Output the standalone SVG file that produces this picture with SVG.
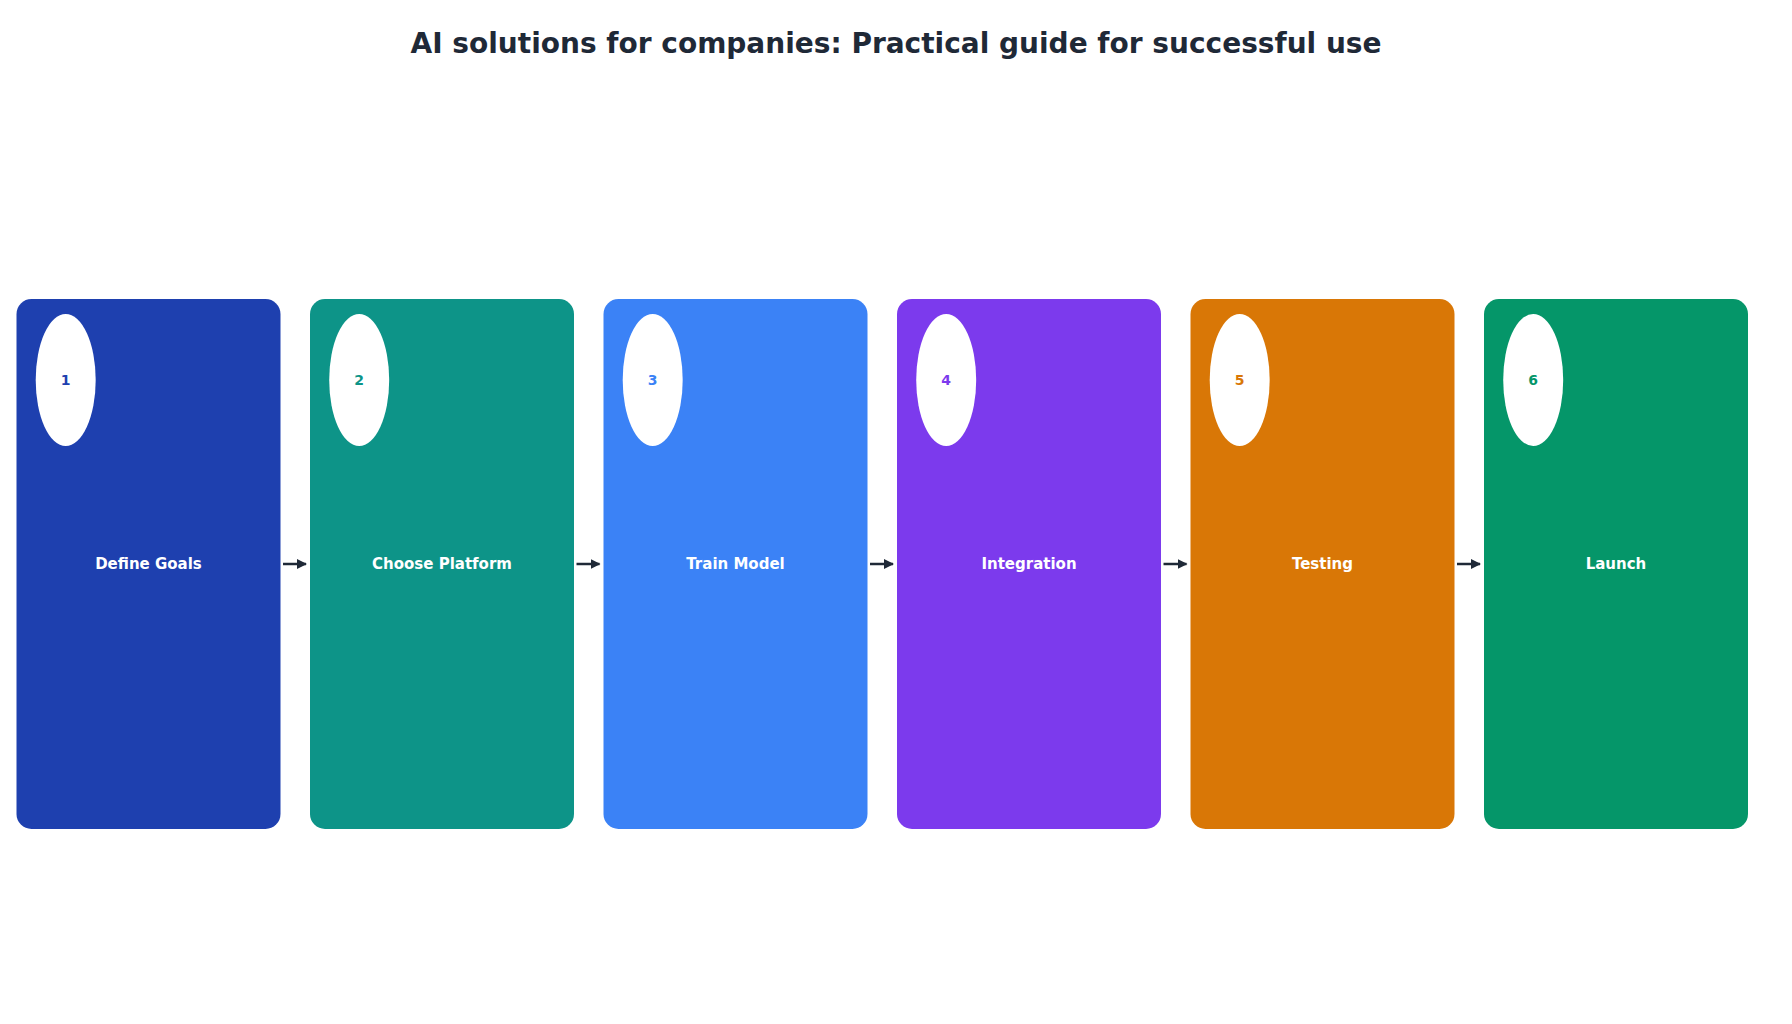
<svg xmlns="http://www.w3.org/2000/svg" width="1792" height="1024" viewBox="0 0 1792 1024">
<defs>
<style>
.title{font-family:"DejaVu Sans",sans-serif;font-weight:bold;font-size:28px;fill:#1f2937;text-anchor:middle}
.lbl{font-family:"DejaVu Sans",sans-serif;font-weight:bold;font-size:15px;fill:#ffffff;text-anchor:middle;dominant-baseline:central}
.num{font-family:"DejaVu Sans",sans-serif;font-weight:bold;font-size:14px;text-anchor:middle;dominant-baseline:central}
.badge{fill:#ffffff}
.conn{stroke:#1f2937;stroke-width:2.5;fill:none}
</style>
<marker id="ah" viewBox="0 0 10 10" refX="9" refY="5" markerWidth="4" markerHeight="4" orient="auto" markerUnits="strokeWidth">
<path d="M0,0 L10,5 L0,10 z" fill="#1f2937"/>
</marker>
</defs>
<rect width="1792" height="1024" fill="#ffffff"/>
<text class="title" x="896" y="53">AI solutions for companies: Practical guide for successful use</text>
<g id="node1">
<rect x="16.5" y="299" width="264" height="530" rx="15" fill="#1e40af"/>
<ellipse class="badge" cx="65.7" cy="380" rx="30" ry="66"/>
<text class="num" x="65.7" y="380" fill="#1e40af">1</text>
<text class="lbl" x="148.5" y="564">Define Goals</text>
</g>
<g id="node2">
<rect x="310" y="299" width="264" height="530" rx="15" fill="#0d9488"/>
<ellipse class="badge" cx="359.2" cy="380" rx="30" ry="66"/>
<text class="num" x="359.2" y="380" fill="#0d9488">2</text>
<text class="lbl" x="442" y="564">Choose Platform</text>
</g>
<g id="node3">
<rect x="603.5" y="299" width="264" height="530" rx="15" fill="#3b82f6"/>
<ellipse class="badge" cx="652.7" cy="380" rx="30" ry="66"/>
<text class="num" x="652.7" y="380" fill="#3b82f6">3</text>
<text class="lbl" x="735.5" y="564">Train Model</text>
</g>
<g id="node4">
<rect x="897" y="299" width="264" height="530" rx="15" fill="#7c3aed"/>
<ellipse class="badge" cx="946.2" cy="380" rx="30" ry="66"/>
<text class="num" x="946.2" y="380" fill="#7c3aed">4</text>
<text class="lbl" x="1029" y="564">Integration</text>
</g>
<g id="node5">
<rect x="1190.5" y="299" width="264" height="530" rx="15" fill="#d97706"/>
<ellipse class="badge" cx="1239.7" cy="380" rx="30" ry="66"/>
<text class="num" x="1239.7" y="380" fill="#d97706">5</text>
<text class="lbl" x="1322.5" y="564">Testing</text>
</g>
<g id="node6">
<rect x="1484" y="299" width="264" height="530" rx="15" fill="#059669"/>
<ellipse class="badge" cx="1533.2" cy="380" rx="30" ry="66"/>
<text class="num" x="1533.2" y="380" fill="#059669">6</text>
<text class="lbl" x="1616" y="564">Launch</text>
</g>
<g id="connectors">
<line class="conn" x1="283" y1="564" x2="306" y2="564" marker-end="url(#ah)"/>
<line class="conn" x1="576.5" y1="564" x2="599.5" y2="564" marker-end="url(#ah)"/>
<line class="conn" x1="870" y1="564" x2="893" y2="564" marker-end="url(#ah)"/>
<line class="conn" x1="1163.5" y1="564" x2="1186.5" y2="564" marker-end="url(#ah)"/>
<line class="conn" x1="1457" y1="564" x2="1480" y2="564" marker-end="url(#ah)"/>
</g>
</svg>
